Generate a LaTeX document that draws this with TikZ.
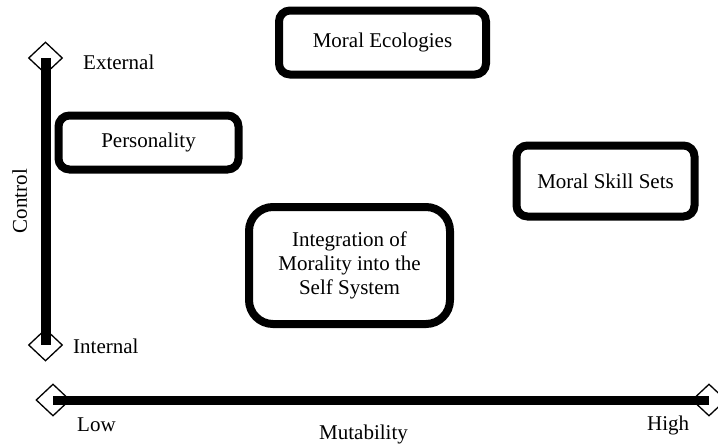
\documentclass[tikz,border=0pt]{standalone}
\usepackage{fontspec}
\setmainfont{Liberation Serif}
\usetikzlibrary{shapes.geometric}
\begin{document}
\begin{tikzpicture}[x=1pt,y=-1pt,
  txt/.style={font=\fontsize{21}{24}\selectfont},
  box/.style={txt, draw, line width=8pt, rounded corners=#1, align=center, inner sep=0pt},
  box/.default=11pt,
  lab/.style={txt, inner sep=0pt},
  dia/.style={draw, diamond, minimum width=34pt, minimum height=32pt, inner sep=0pt, line width=1.3pt},
  axisline/.style={line width=#1}
]
\useasboundingbox (0,0) rectangle (718,445);
\clip (0,0) rectangle (718,445);

% boxes
\node[box, minimum width=207pt, minimum height=64pt] (eco) at (382.5,42.5) {Moral Ecologies};
\node[box, minimum width=180pt, minimum height=54pt] (pers) at (148.5,142.5) {Personality};
\node[box, minimum width=178pt, minimum height=71pt] (skill) at (605.5,181) {Moral Skill Sets};
\node[box=24pt, minimum width=201pt, minimum height=117pt] (integ) at (349.5,265.5) {Integration of\\Morality into the\\Self System};

% diamonds
\node[dia] (dext) at (45.5,58) {};
\node[dia] (dint) at (45.5,345) {};
\node[dia] (dlow) at (53,400) {};
\node[dia] (dhigh) at (709,400) {};

% axes
\draw[axisline=10pt] (dext.center) -- (dint.center);
\draw[axisline=9pt] (dlow.center) -- (dhigh.center);

% labels
\node[lab, anchor=base west] (lext) at (83,69) {External};
\node[lab, anchor=base west] (lint) at (73,353) {Internal};
\node[lab, anchor=base west] (llow) at (77,431) {Low};
\node[lab, anchor=base west] (lhigh) at (647,430) {High};
\node[lab, anchor=base] (lmut) at (363.5,439) {Mutability};
\node[lab, rotate=90, anchor=base] (lctrl) at (27,201) {Control};
\end{tikzpicture}
\end{document}
